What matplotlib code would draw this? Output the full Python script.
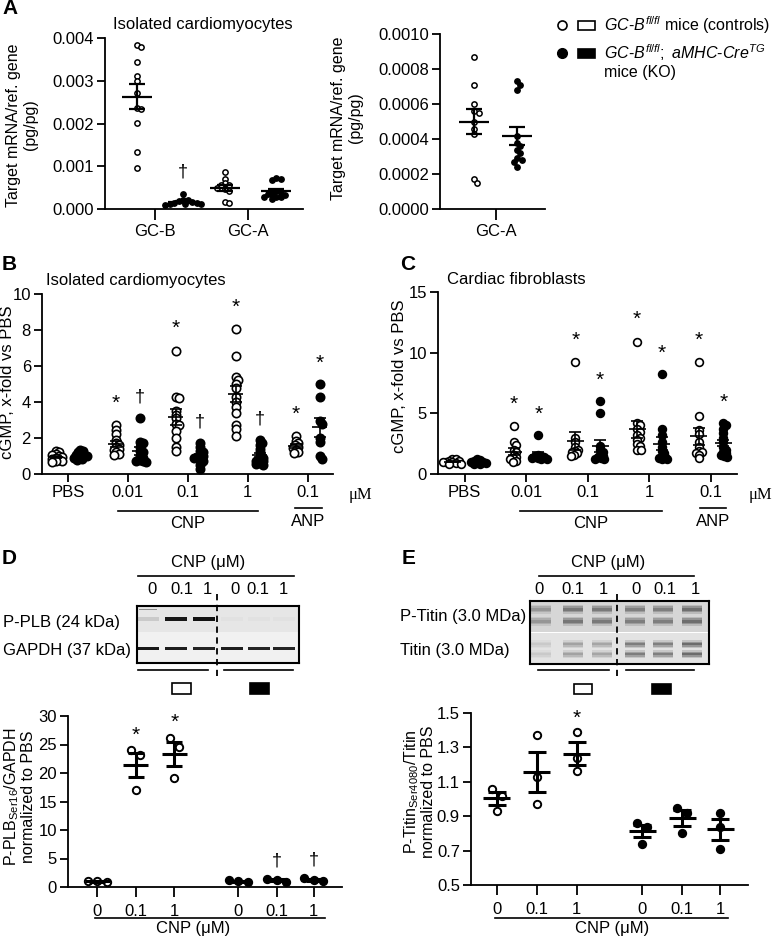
import numpy as np
import matplotlib.pyplot as plt
from matplotlib.lines import Line2D
from matplotlib.patches import Rectangle

plt.rcParams['font.family'] = ['Liberation Sans', 'DejaVu Sans']
plt.rcParams['mathtext.fontset'] = 'custom'
plt.rcParams['mathtext.rm'] = 'Liberation Sans'
plt.rcParams['mathtext.it'] = 'Liberation Sans:italic'
plt.rcParams['font.size'] = 12

W, H = 773, 940

# A: target mRNA / ref. gene (pg/pg), isolated cardiomyocytes
gcb_ctrl = [0.00384, 0.0038, 0.00344, 0.00312, 0.003, 0.00272, 0.00237, 0.00233, 0.00202, 0.00134, 0.00095]
gcb_ko = [0.00035, 0.00022, 0.0002, 0.00018, 0.00016, 0.00014, 0.00013, 0.00012, 0.00012, 0.00011, 0.0001]
gca_ctrl = [0.00087, 0.00071, 0.0006, 0.00056, 0.00055, 0.0005, 0.00046, 0.00043, 0.00017, 0.00015]
gca_ko = [0.00073, 0.00071, 0.00068, 0.00042, 0.00038, 0.00036, 0.00034, 0.00032, 0.00029, 0.00028, 0.00027, 0.00024]

# B: cGMP x-fold vs PBS, isolated cardiomyocytes
bc_labels = ['PBS', '0.01', '0.1', '1', '0.1']
b_ctrl = [
    [1.3, 1.2, 1.1, 1.05, 1.0, 0.95, 0.9, 0.85, 0.8, 0.75, 0.7, 0.65],
    [2.7, 2.45, 2.25, 1.9, 1.7, 1.6, 1.5, 1.4, 1.35, 1.2, 1.1, 1.05],
    [6.85, 4.3, 4.2, 3.5, 3.3, 3.1, 2.8, 2.7, 2.4, 2.0, 1.5, 1.3],
    [8.05, 6.55, 5.4, 5.25, 5.0, 4.8, 4.3, 4.0, 3.7, 3.4, 2.7, 2.5, 2.1],
    [2.1, 1.85, 1.7, 1.6, 1.5, 1.45, 1.35, 1.2, 1.15],
]
b_ko = [
    [1.35, 1.3, 1.2, 1.1, 1.05, 1.0, 1.0, 0.95, 0.9, 0.85, 0.8],
    [3.1, 1.8, 1.7, 1.5, 1.3, 1.2, 1.0, 0.9, 0.8, 0.75, 0.7, 0.65],
    [1.75, 1.5, 1.3, 1.2, 1.1, 1.0, 0.95, 0.9, 0.8, 0.7, 0.5, 0.3],
    [1.9, 1.75, 1.6, 1.4, 1.2, 1.0, 0.9, 0.8, 0.75, 0.7, 0.6, 0.55, 0.5],
    [5.0, 4.3, 2.95, 2.8, 2.0, 1.8, 1.0, 0.85],
]
b_ctrl_sig = ['', '*', '*', '*', '*']
b_ko_sig = ['', '†', '†', '†', '*']

# C: cGMP x-fold vs PBS, cardiac fibroblasts
c_ctrl = [
    [1.25, 1.2, 1.1, 1.05, 1.0, 1.0, 0.95, 0.9, 0.85, 0.8],
    [3.95, 2.6, 2.4, 2.0, 1.8, 1.6, 1.4, 1.3, 1.2, 1.1, 1.0],
    [9.2, 3.0, 2.6, 2.2, 2.0, 1.9, 1.8, 1.7, 1.6, 1.5],
    [10.9, 4.2, 4.0, 3.7, 3.5, 3.2, 3.0, 2.8, 2.5, 2.3, 2.0, 2.0],
    [9.2, 4.8, 3.6, 3.3, 2.6, 2.2, 1.9, 1.8, 1.7, 1.6, 1.3],
]
c_ko = [
    [1.25, 1.15, 1.1, 1.0, 1.0, 0.95, 0.9, 0.85, 0.8],
    [3.2, 1.6, 1.5, 1.45, 1.4, 1.35, 1.3, 1.25, 1.2],
    [6.0, 5.05, 2.3, 2.0, 1.8, 1.6, 1.5, 1.4, 1.3, 1.2, 1.2],
    [8.25, 3.7, 3.2, 2.6, 2.2, 1.9, 1.7, 1.5, 1.4, 1.3, 1.2, 1.2],
    [4.2, 4.0, 3.7, 3.4, 3.0, 2.6, 2.2, 2.0, 1.8, 1.7, 1.6, 1.5, 1.4],
]
c_ctrl_sig = ['', '*', '*', '*', '*']
c_ko_sig = ['', '*', '*', '*', '*']

# D / E: western blot quantification
de_labels = ['0', '0.1', '1', '0', '0.1', '1']
d_ctrl = [[0.9, 1.1, 1.0], [24.0, 23.1, 17.1], [26.2, 24.6, 19.2]]
d_ko = [[0.9, 1.2, 1.0], [0.8, 1.4, 1.3], [1.0, 1.6, 1.2]]
d_ctrl_sig = ['', '*', '*']
d_ko_sig = ['', '†', '†']
e_ctrl = [[1.06, 1.02, 0.93], [1.37, 1.13, 0.97], [1.39, 1.24, 1.16]]
e_ko = [[0.86, 0.84, 0.74], [0.95, 0.92, 0.80], [0.92, 0.84, 0.71]]
e_ctrl_sig = ['', '', '*']
e_ko_sig = ['', '', '']

# blot band intensities (0 = none, 1 = black), lanes 0/0.1/1 ctrl then KO
plb_band = [0.12, 0.9, 0.92, 0.02, 0.02, 0.02]
gapdh_band = [0.9, 0.88, 0.85, 0.88, 0.85, 0.85]
ptitin_band = [0.4, 0.6, 0.58, 0.55, 0.55, 0.65]
titin_band = [0.15, 0.38, 0.36, 0.6, 0.58, 0.7]

fig = plt.figure(figsize=(W / 100, H / 100), dpi=100)


def rect(x0, y0, x1, y1):
    return [x0 / W, 1 - y1 / H, (x1 - x0) / W, (y1 - y0) / H]


def ftext(x, y, s, **kw):
    kw.setdefault('fontsize', 12)
    kw.setdefault('va', 'center')
    fig.text(x / W, 1 - y / H, s, **kw)


def fline(x0, y0, x1, y1, **kw):
    kw.setdefault('color', 'black')
    kw.setdefault('lw', 1.2)
    fig.add_artist(Line2D([x0 / W, x1 / W], [1 - y0 / H, 1 - y1 / H], **kw))


def frect(x0, y0, x1, y1, fc):
    fig.add_artist(Rectangle((x0 / W, 1 - y1 / H), (x1 - x0) / W, (y1 - y0) / H,
                             transform=fig.transFigure, fc=fc, ec='black', lw=1.2))


def frame(ax, xlim, ylim, xticks, xlabels, yticks, fmt='%g'):
    ax.set_xlim(*xlim)
    ax.set_ylim(*ylim)
    ax.set_xticks(xticks)
    ax.set_xticklabels(xlabels)
    ax.set_yticks(yticks)
    ax.set_yticklabels([fmt % t for t in yticks])
    ax.spines[['top', 'right']].set_visible(False)
    ax.spines[['left', 'bottom']].set_linewidth(1.3)
    ax.tick_params(width=1.3, length=6, labelsize=12, pad=2)


def offsets_swarm(ypx, d):
    placed = []
    out = np.zeros(len(ypx))
    for i in np.argsort(-ypx):
        cand = [0.0]
        for k in range(1, 200):
            cand += [k * 0.5, -k * 0.5]
        for off in cand:
            if all(np.hypot(off - px, ypx[i] - py) >= d for px, py in placed):
                break
        placed.append((off, ypx[i]))
        out[i] = off
    return out


def offsets_rows(ypx, step, bin_px):
    rows = []
    for i in np.argsort(-ypx):
        if rows and abs(ypx[rows[-1][0]] - ypx[i]) < bin_px:
            rows[-1].append(i)
        else:
            rows.append([i])
    out = np.zeros(len(ypx))
    for row in rows:
        for k, i in enumerate(row):
            out[i] = (k - (len(row) - 1) / 2) * step
    return out


def dots(ax, vals, center, filled, ms, mean_px, cap, lw, mew=1.2, swarm=None, rows=None):
    vals = np.asarray(vals, float)
    bb = ax.get_window_extent()
    x0, x1 = ax.get_xlim()
    y0, y1 = ax.get_ylim()
    sx = bb.width / (x1 - x0)
    sy = bb.height / (y1 - y0)
    if swarm is not None:
        off = offsets_swarm(vals * sy, swarm)
    else:
        off = offsets_rows(vals * sy, *rows)
    xs = center + off / sx
    ax.plot(xs, vals, 'o', ms=ms, mfc='black' if filled else 'white', mec='black',
            mew=mew, zorder=3, clip_on=False)
    m = vals.mean()
    sem = vals.std(ddof=1) / np.sqrt(len(vals))
    ax.plot([center - mean_px / 2 / sx, center + mean_px / 2 / sx], [m, m],
            color='black', lw=lw, zorder=4, solid_capstyle='butt')
    ax.errorbar(center, m, yerr=sem, fmt='none', ecolor='black', elinewidth=lw,
                capsize=cap, capthick=lw, zorder=4)
    return vals.max()


def sig(ax, x, top, s, off):
    if s:
        ax.annotate(s, (x, top), xytext=(0, off), textcoords='offset points',
                    ha='center', va='center', fontsize=15 if s == '*' else 13)


# ---------- A ----------
ax = fig.add_axes(rect(105, 38, 303, 209))
frame(ax, (-0.54, 1.59), (0, 0.004), [0, 1], ['GC-B', 'GC-A'],
      [0, 0.001, 0.002, 0.003, 0.004], '%.3f')
ax.tick_params(axis='x', length=8, pad=3)
for v, c, f, sg in [(gcb_ctrl, -0.2, False, ''), (gcb_ko, 0.3, True, '†'),
                    (gca_ctrl, 0.75, False, ''), (gca_ko, 1.3, True, '')]:
    top = dots(ax, v, c, f, 3.8, 30, 5.5, 1.6, mew=1.1, swarm=4.5)
    sig(ax, c, top, sg, 16)
ftext(113, 25, 'Isolated cardiomyocytes')
ftext(22, 125, 'Target mRNA/ref. gene\n(pg/pg)', rotation=90, ha='center',
      multialignment='center', fontsize=11.5)

ax = fig.add_axes(rect(440, 34, 545, 209))
frame(ax, (-1.3, 1.14), (0, 0.001), [0], ['GC-A'],
      [0, 0.0002, 0.0004, 0.0006, 0.0008, 0.001], '%.4f')
ax.tick_params(axis='x', length=8, pad=3)
dots(ax, gca_ctrl, -0.5, False, 3.8, 30, 5.5, 1.6, mew=1.1, swarm=4.5)
dots(ax, gca_ko, 0.5, True, 3.8, 30, 5.5, 1.6, mew=1.1, swarm=4.5)
ftext(347, 118, 'Target mRNA/ref. gene\n(pg/pg)', rotation=90, ha='center',
      multialignment='center', fontsize=11.5)

# legend
fig.add_artist(Line2D([562 / W], [1 - 25 / H], marker='o', ms=6.5, mfc='white', mec='black', mew=1.2))
frect(578, 21, 595, 30, 'white')
ftext(604, 25, r'$\mathit{GC}$-$\mathit{B}^{\mathit{fl/fl}}$ mice (controls)', fontsize=11.5)
fig.add_artist(Line2D([562 / W], [1 - 53 / H], marker='o', ms=7, mfc='black', mec='black'))
frect(578, 49, 595, 58, 'black')
ftext(604, 53, r'$\mathit{GC}$-$\mathit{B}^{\mathit{fl/fl}}\mathit{;\ aMHC}$-$\mathit{Cre}^{\mathit{TG}}$',
      fontsize=11.5)
ftext(604, 73, 'mice (KO)', fontsize=11.5)


# ---------- B / C ----------
def cgmp_panel(box, ymax, yticks, ctrl, ko, ctrl_sig, ko_sig, ms, mean_px):
    ax = fig.add_axes(rect(*box))
    frame(ax, (-0.43, 4.42), (0, ymax), range(5), bc_labels, yticks)
    for i in range(5):
        top = dots(ax, ctrl[i], i - 0.2, False, ms, mean_px, 4, 1.2, swarm=3.2)
        sig(ax, i - 0.2, top, ctrl_sig[i], 16)
        top = dots(ax, ko[i], i + 0.2, True, ms, mean_px, 4, 1.2, swarm=3.2)
        sig(ax, i + 0.2, top, ko_sig[i], 15)
    return ax


cgmp_panel((42, 294, 333, 474), 10, [0, 2, 4, 6, 8, 10], b_ctrl, b_ko, b_ctrl_sig, b_ko_sig, 6, 15)
ftext(46, 280, 'Isolated cardiomyocytes')
ftext(8, 382, 'cGMP, x-fold vs PBS', rotation=90, ha='center', fontsize=12)
ftext(349, 495, 'μM', ha='left', family=['Liberation Serif', 'DejaVu Serif'], fontsize=12)
fline(118, 511, 258, 511)
ftext(188, 523, 'CNP', ha='center')
fline(295, 508, 322, 508)
ftext(308, 521, 'ANP', ha='center')

cgmp_panel((438, 292, 737, 474), 15, [0, 5, 10, 15], c_ctrl, c_ko, c_ctrl_sig, c_ko_sig, 5.6, 17)
ftext(447, 280, 'Cardiac fibroblasts')
ftext(399, 376, 'cGMP, x-fold vs PBS', rotation=90, ha='center', fontsize=12)
ftext(749, 495, 'μM', ha='left', family=['Liberation Serif', 'DejaVu Serif'], fontsize=12)
fline(520, 511, 662, 511)
ftext(591, 523, 'CNP', ha='center')
fline(700, 508, 726, 508)
ftext(713, 521, 'ANP', ha='center')

# ---------- panel letters ----------
for x, y, s in [(2, 9, 'A'), (2, 265, 'B'), (400, 265, 'C'), (2, 559, 'D'), (402, 559, 'E')]:
    ftext(x, y, s, fontweight='bold', fontsize=15)


# ---------- blots ----------
def blot_header(x_mid, x0, x1, lanes, dash_x, under):
    ftext(x_mid, 563, 'CNP (μM)', ha='center')
    fline(x0, 576, x1, 576)
    for x, s in zip(lanes, de_labels):
        ftext(x, 590, s, ha='center')
    fline(dash_x, 594, dash_x, 676, ls=(0, (3.5, 2.5)), lw=1.3)
    fline(under[0], 670, under[1], 670)
    fline(under[2], 670, under[3], 670)


def shade(bg, v):
    return str(round(bg * (1 - v), 3))


# D blot
ax = fig.add_axes(rect(137, 606, 299, 663))
ax.set_xlim(137, 299)
ax.set_ylim(663, 606)
ax.set_xticks([])
ax.set_yticks([])
for s in ax.spines.values():
    s.set_linewidth(1.5)
ax.add_patch(Rectangle((137, 606), 162, 26, fc='0.9', lw=0))
ax.add_patch(Rectangle((137, 632), 162, 31, fc='0.945', lw=0))
d_lanes = [148, 176, 204, 232, 259, 284]
for x, v in zip(d_lanes, plb_band):
    ax.add_patch(Rectangle((x - 11, 617), 22, 3.5, fc=shade(0.9, v), lw=0))
ax.add_patch(Rectangle((139, 609), 18, 1.2, fc='0.55', lw=0))
for x, v in zip(d_lanes, gapdh_band):
    ax.add_patch(Rectangle((x - 11, 646.5), 22, 3.5, fc=shade(0.945, v), lw=0))
blot_header(208, 138, 294, [152, 182, 207, 235, 258, 283], 217, (138, 208, 224, 293))
ftext(3, 622, 'P-PLB (24 kDa)')
ftext(3, 650, 'GAPDH (37 kDa)')
frect(172, 683, 191, 694, 'white')
frect(250, 683, 269, 694, 'black')

# E blot
ax = fig.add_axes(rect(530, 601, 709, 664))
ax.set_xlim(530, 709)
ax.set_ylim(664, 601)
ax.set_xticks([])
ax.set_yticks([])
for s in ax.spines.values():
    s.set_linewidth(1.5)
ax.add_patch(Rectangle((530, 601), 179, 30.5, fc='0.84', lw=0))
ax.add_patch(Rectangle((530, 633), 179, 31, fc='0.89', lw=0))
e_lanes = [541, 573, 602, 635, 663, 692]
for x, v in zip(e_lanes, ptitin_band):
    for y in (609, 621):
        for hh, a in [(9, 0.2), (6, 0.35), (3, 0.5)]:
            ax.add_patch(Rectangle((x - 10, y - hh / 2), 20, hh, fc=shade(0.84, v), alpha=a, lw=0))
for x, v in zip(e_lanes, titin_band):
    for y in (644, 654):
        for hh, a in [(8, 0.2), (5, 0.35), (2.5, 0.5)]:
            ax.add_patch(Rectangle((x - 10, y - hh / 2), 20, hh, fc=shade(0.89, v), alpha=a, lw=0))
blot_header(608, 539, 694, [539, 573, 603, 636, 665, 695], 617, (538, 609, 626, 694))
ftext(400, 617, 'P-Titin (3.0 MDa)')
ftext(400, 650, 'Titin (3.0 MDa)')
frect(574, 684, 592, 694, 'white')
frect(652, 684, 671, 694, 'black')

# ---------- D plot ----------
de_pos = [0, 1, 2, 3.65, 4.65, 5.6]
ax = fig.add_axes(rect(68, 716, 342, 887))
frame(ax, (-0.75, 6.33), (0, 30), de_pos, de_labels, [0, 5, 10, 15, 20, 25, 30])
ax.tick_params(axis='x', length=7, pad=5)
for i in range(3):
    top = dots(ax, d_ctrl[i], de_pos[i], False, 5.3, 25, 6, 2.2, mew=1.4, rows=(9.5, 18))
    sig(ax, de_pos[i], top, d_ctrl_sig[i], 11)
    top = dots(ax, d_ko[i], de_pos[i + 3], True, 5.3, 25, 6, 2.2, mew=1.4, rows=(9.5, 18))
    sig(ax, de_pos[i + 3], top, d_ko_sig[i], 13)
fline(95, 918, 325, 918)
ftext(193, 929, 'CNP (μM)', ha='center')
ftext(19, 797, 'P-PLB$_{\\mathrm{Ser16}}$/GAPDH\nnormalized to PBS', rotation=90,
      ha='center', multialignment='center', fontsize=11.5, linespacing=1.05)

# ---------- E plot ----------
ax = fig.add_axes(rect(471, 713, 748, 885))
frame(ax, (-0.65, 6.3), (0.5, 1.5), de_pos, de_labels, [0.5, 0.7, 0.9, 1.1, 1.3, 1.5])
ax.tick_params(axis='x', length=7, pad=5)
for i in range(3):
    top = dots(ax, e_ctrl[i], de_pos[i], False, 5.3, 27, 6.5, 2.2, mew=1.4, rows=(10, 8))
    sig(ax, de_pos[i], top, e_ctrl_sig[i], 10)
    top = dots(ax, e_ko[i], de_pos[i + 3], True, 5.3, 27, 6.5, 2.2, mew=1.4, rows=(10, 8))
    sig(ax, de_pos[i + 3], top, e_ko_sig[i], 10)
fline(495, 918, 728, 918)
ftext(612, 929, 'CNP (μM)', ha='center')
ftext(419, 792, 'P-Titin$_{\\mathrm{Ser4080}}$/Titin\nnormalized to PBS', rotation=90,
      ha='center', multialignment='center', fontsize=11.5, linespacing=1.05)

fig.savefig('out.png', dpi=100)
